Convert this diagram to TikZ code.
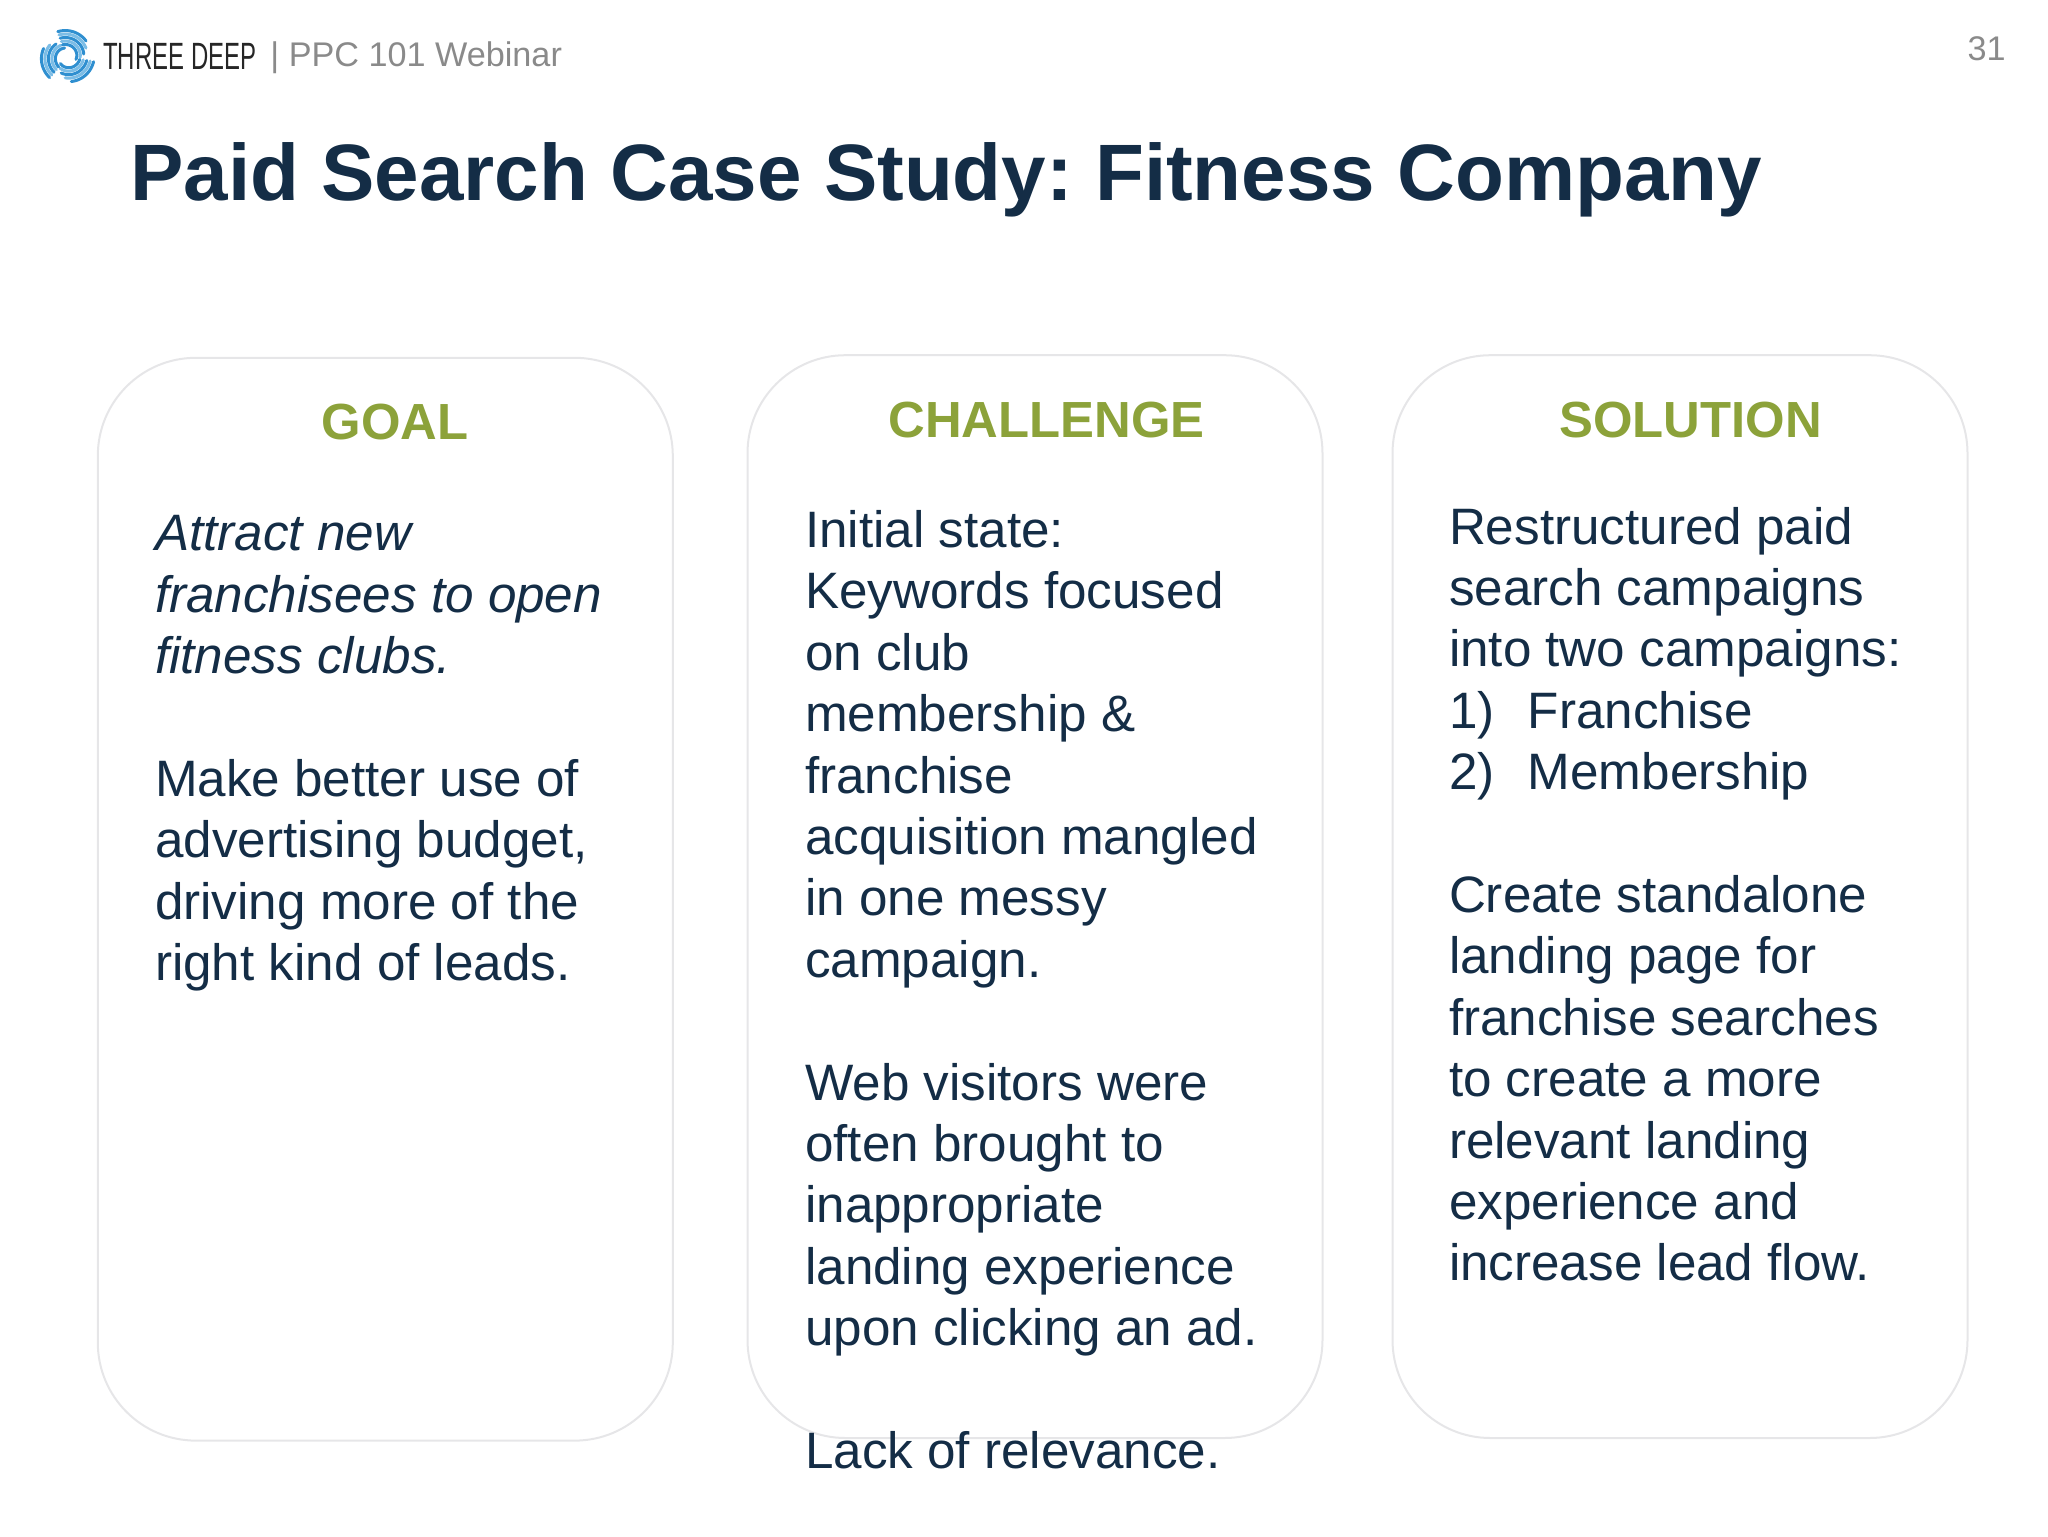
\documentclass[tikz,border=0pt]{standalone}
\usepackage{xcolor}
\usepackage{fontspec}
\setmainfont{Liberation Sans}
\frenchspacing
\usetikzlibrary{positioning}
\definecolor{inkblue}{HTML}{142D46}
\definecolor{headgreen}{HTML}{8CA23A}
\definecolor{cardline}{HTML}{E6E6E8}
\definecolor{softgrey}{HTML}{8A8A8A}
\definecolor{swirlblue}{HTML}{2F8FD0}
\definecolor{swirllight}{HTML}{7CBDE6}
\tikzset{
  card/.style={draw=cardline,line width=1pt,rounded corners=49pt,fill=white,
    minimum width=287.5pt,minimum height=541.4pt,inner sep=0pt},
  cardhead/.style={text=headgreen,inner sep=0pt,font=\fontsize{25.4}{30}\selectfont\bfseries},
  cardtext/.style={text=inkblue,inner sep=0pt,align=left,anchor=north west,
    font=\fontsize{25.6}{30.7}\selectfont},
  topnote/.style={text=softgrey,inner sep=0pt,font=\fontsize{17.1}{21}\selectfont}
}
\begin{document}
\begin{tikzpicture}[x=0.5pt,y=-0.5pt]
\useasboundingbox (0,0) rectangle (2048,1536);
%%the three cards
\node[card] (goalcard) at (385.3,899.2) {};
\node[card] (challengecard) at (1035,896.6) {};
\node[card] (solutioncard) at (1680,896.6) {};
%%the swirl of the logo
\path (67,57) coordinate (swirl);
\foreach \a in {10,130,250}
  \foreach \r/\c/\e in {27/swirlblue/70,23.5/swirllight/85,20/swirlblue/100,16.5/swirllight/112,13/swirlblue/125}
    \draw[\c,line width=1.5pt,line cap=round,shift={(swirl)}]
      plot[domain=0:\e,samples=14] ({\a+\x}:{\r-\x*0.03});
%%the line at the top
\node[inner sep=0pt,anchor=base west,xscale=0.63,text=black!85,font=\fontsize{19}{22}\selectfont] (brand) at (103,70) {THREE DEEP};
\node[topnote,anchor=base west] (webinar) at (270,67) {| PPC 101 Webinar};
\node[topnote,anchor=base east] (pagenum) at (2006,60.4) {31};
%%the title
\node[text=inkblue,inner sep=0pt,anchor=base west,font=\fontsize{40}{48}\selectfont\bfseries] (slidetitle) at (130,200) {Paid Search Case Study: Fitness Company};
%%the headings
\node[cardhead] (goalhead) at (395,422.4) {GOAL};
\node[cardhead] (challengehead) at (1046.4,419.7) {CHALLENGE};
\node[cardhead] (solutionhead) at (1690.5,419.7) {SOLUTION};
%%finally the text
\node[cardtext] (goaltext) at (154.7,515) {\textit{Attract new}\\\textit{franchisees to open}\\\textit{fitness clubs.}\\[30.7pt]
Make better use of\\advertising budget,\\driving more of the\\right kind of leads.};
\node[cardtext] (challengetext) at (804.8,510) {Initial state:\\Keywords focused\\on club\\membership \&\\franchise\\acquisition mangled\\in one messy\\campaign.\\[30.7pt]
Web visitors were\\often brought to\\inappropriate\\landing experience\\upon clicking an ad.\\[30.7pt]
Lack of relevance.};
\node[cardtext] (solutiontext) at (1448.6,506.5) {Restructured paid\\search campaigns\\into two campaigns:\\1)\hspace{0.65em}Franchise\\2)\hspace{0.65em}Membership\\[30.7pt]
Create standalone\\landing page for\\franchise searches\\to create a more\\relevant landing\\experience and\\increase lead flow.};
\end{tikzpicture}
\end{document}
